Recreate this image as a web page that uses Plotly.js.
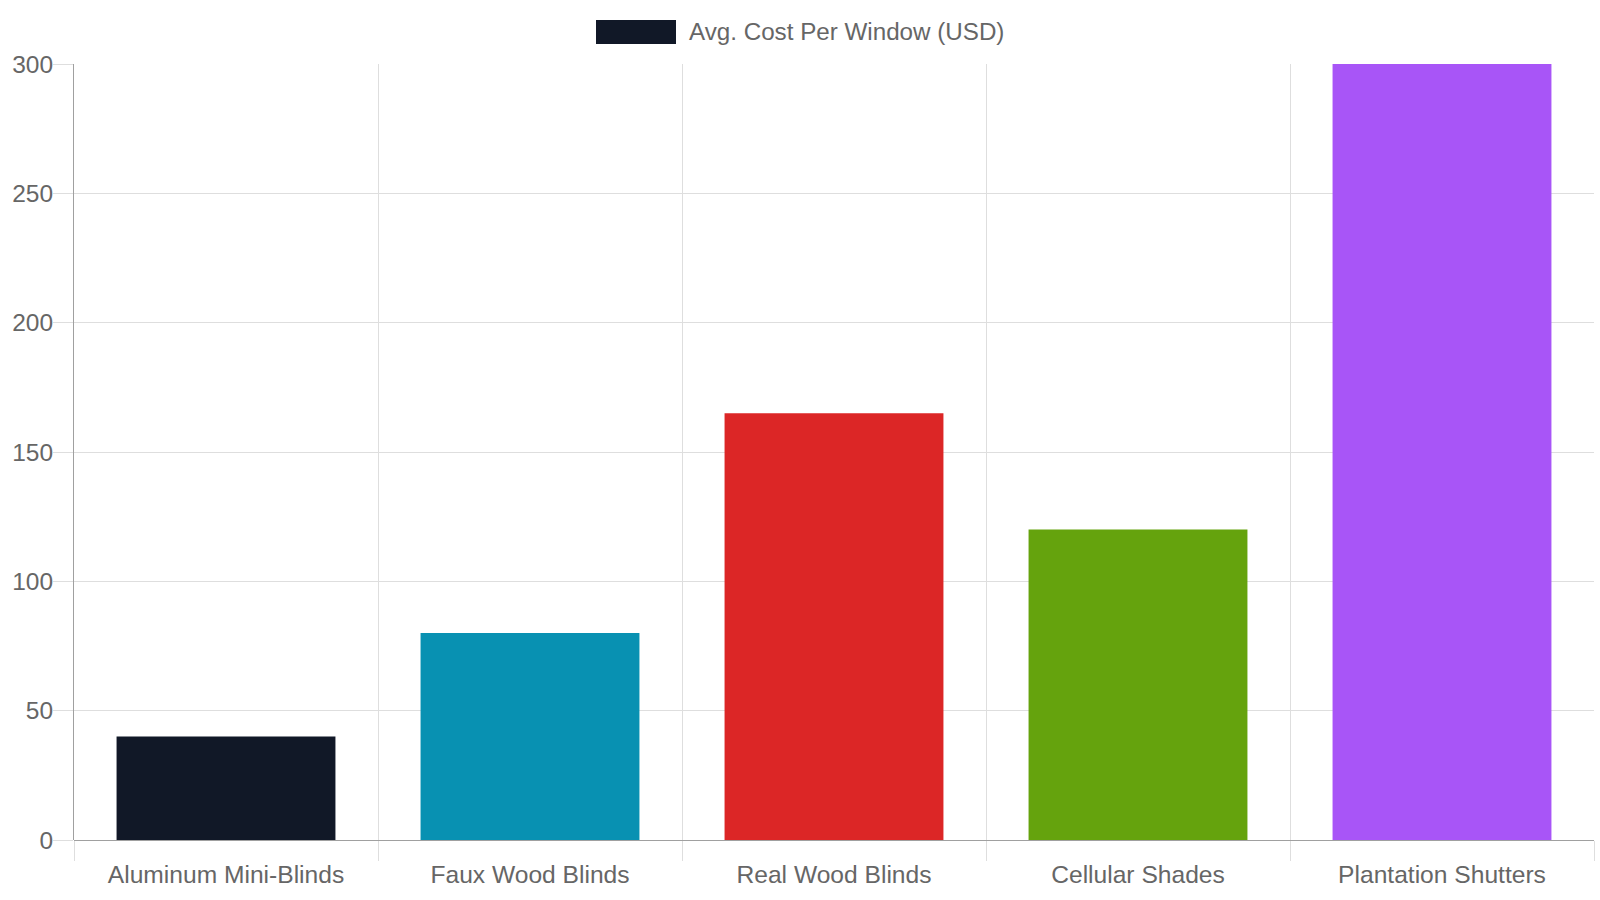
<!DOCTYPE html>
<html>
<head>
<meta charset="utf-8">
<script src="https://cdn.plot.ly/plotly-3.0.1.min.js"></script>
<style>html,body{margin:0;padding:0;background:#fff;}#chart{width:1600px;height:900px;}</style>
</head>
<body>
<div id="chart"></div>
<script>
const categories = ["Aluminum Mini-Blinds", "Faux Wood Blinds", "Real Wood Blinds", "Cellular Shades", "Plantation Shutters"];
const costs = [40, 80, 165, 120, 300];
const barColors = ["#111827", "#0891b2", "#dc2626", "#65a30d", "#a855f7"];
const seriesName = "Avg. Cost Per Window (USD)";
const yTicks = [0, 50, 100, 150, 200, 250, 300];

const FONT = "Liberation Sans, Arial, Helvetica, sans-serif";
const GRID = "#dedede";
const AXIS = "#a0a0a0";

const trace = {
  type: "bar",
  x: categories,
  y: costs,
  name: seriesName,
  marker: { color: barColors, line: { width: 0 } },
  showlegend: false,
  hoverinfo: "x+y"
};

const layout = {
  width: 1600,
  height: 900,
  margin: { l: 74, r: 6, t: 64, b: 60, pad: 0 },
  paper_bgcolor: "#ffffff",
  plot_bgcolor: "#ffffff",
  font: { family: FONT, size: 24, color: "#666666" },
  bargap: 0.28,
  showlegend: false,
  xaxis: {
    type: "category",
    tickson: "boundaries",
    ticks: "outside",
    ticklen: 20,
    tickcolor: GRID,
    tickwidth: 1,
    ticklabelstandoff: 17,
    showgrid: true,
    gridcolor: GRID,
    gridwidth: 1,
    showline: false,
    zeroline: false,
    automargin: false,
    tickfont: { family: FONT, size: 24.6, color: "#666666" }
  },
  yaxis: {
    range: [0, 300],
    tickvals: yTicks,
    ticktext: yTicks.map(String),
    ticks: "outside",
    ticklen: 20,
    tickcolor: GRID,
    tickwidth: 1,
    ticklabelstandoff: -5,
    showgrid: true,
    gridcolor: GRID,
    gridwidth: 1,
    showline: true,
    linecolor: AXIS,
    linewidth: 1,
    zeroline: true,
    zerolinecolor: AXIS,
    zerolinewidth: 1,
    automargin: false,
    tickfont: { family: FONT, size: 24.5, color: "#666666" }
  },
  shapes: [
    {
      type: "rect",
      xref: "paper", yref: "paper",
      x0: (596 - 74) / 1520, x1: (676 - 74) / 1520,
      y0: (840 - 44) / 776, y1: (840 - 20) / 776,
      fillcolor: barColors[0],
      line: { width: 0 }
    }
  ],
  annotations: [
    {
      xref: "paper", yref: "paper",
      x: (687 - 74) / 1520, y: (840 - 32) / 776,
      xanchor: "left", yanchor: "middle",
      text: seriesName,
      showarrow: false,
      font: { family: FONT, size: 24.2, color: "#666666" }
    }
  ]
};

Plotly.newPlot("chart", [trace], layout, { displayModeBar: false, staticPlot: true });
</script>
</body>
</html>
